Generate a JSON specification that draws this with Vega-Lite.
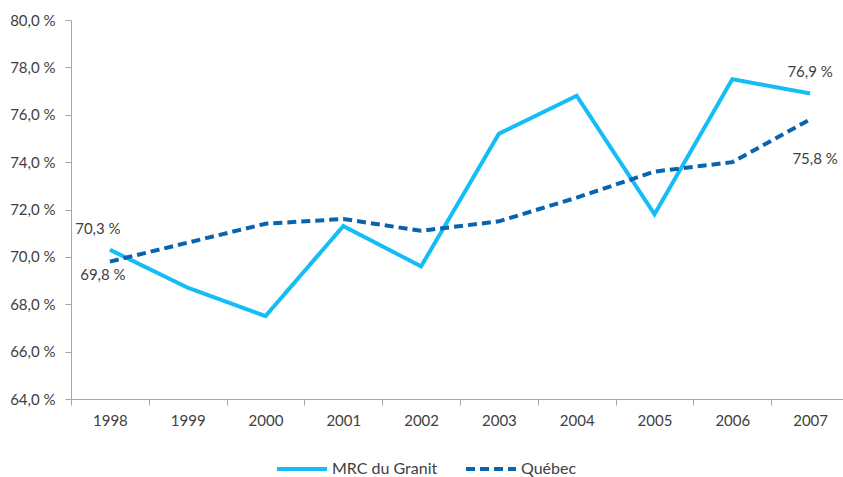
{
  "$schema": "https://vega.github.io/schema/vega-lite/v6.json",
  "autosize": {"type": "none"},
  "width": 778,
  "height": 379,
  "padding": {"left": 71, "top": 20, "right": 0, "bottom": 78},
  "background": "white",
  "config": {"view": {"stroke": null}, "font": "Lato", "text": {"font": "Lato"}},
  "data": {"values": [
    {"year": "1998", "series": "MRC du Granit", "value": 70.3, "label": "70,3 %"},
    {"year": "1999", "series": "MRC du Granit", "value": 68.7},
    {"year": "2000", "series": "MRC du Granit", "value": 67.5},
    {"year": "2001", "series": "MRC du Granit", "value": 71.3},
    {"year": "2002", "series": "MRC du Granit", "value": 69.6},
    {"year": "2003", "series": "MRC du Granit", "value": 75.2},
    {"year": "2004", "series": "MRC du Granit", "value": 76.8},
    {"year": "2005", "series": "MRC du Granit", "value": 71.8},
    {"year": "2006", "series": "MRC du Granit", "value": 77.5},
    {"year": "2007", "series": "MRC du Granit", "value": 76.9, "label": "76,9 %"},
    {"year": "1998", "series": "Québec", "value": 69.8, "label": "69,8 %"},
    {"year": "1999", "series": "Québec", "value": 70.6},
    {"year": "2000", "series": "Québec", "value": 71.4},
    {"year": "2001", "series": "Québec", "value": 71.6},
    {"year": "2002", "series": "Québec", "value": 71.1},
    {"year": "2003", "series": "Québec", "value": 71.5},
    {"year": "2004", "series": "Québec", "value": 72.5},
    {"year": "2005", "series": "Québec", "value": 73.6},
    {"year": "2006", "series": "Québec", "value": 74.0},
    {"year": "2007", "series": "Québec", "value": 75.8, "label": "75,8 %"}
  ]},
  "encoding": {
    "x": {
      "field": "year", "type": "ordinal",
      "scale": {"type": "band", "paddingInner": 0, "paddingOuter": 0},
      "axis": {"title": null, "labelAngle": 0, "tickBand": "extent", "domainColor": "#A6A6A6", "tickColor": "#A6A6A6", "tickSize": 6, "labelPadding": 8, "labelFontSize": 15, "labelColor": "#404040", "labelFont": "Lato"}
    },
    "y": {
      "field": "value", "type": "quantitative",
      "scale": {"domain": [64, 80], "nice": false, "zero": false},
      "axis": {"title": null, "values": [64, 66, 68, 70, 72, 74, 76, 78, 80], "grid": false, "labelExpr": "replace(format(datum.value, '.1f'), '.', ',') + ' %'", "domainColor": "#A6A6A6", "tickColor": "#A6A6A6", "tickSize": 6, "labelPadding": 10, "labelFontSize": 15, "labelColor": "#404040", "labelFont": "Lato"}
    }
  },
  "layer": [
    {
      "mark": {"type": "line", "strokeWidth": 4, "strokeCap": "butt"},
      "encoding": {
        "color": {"field": "series", "type": "nominal", "scale": {"domain": ["MRC du Granit", "Québec"], "range": ["#14BDF5", "#0A63AD"]},
          "legend": {"title": null, "orient": "none", "legendX": 204, "legendY": 422, "direction": "horizontal", "symbolType": "stroke", "symbolSize": 2500, "symbolStrokeWidth": 4, "labelFontSize": 16, "labelColor": "#404040", "labelFont": "Lato", "columnPadding": 20, "labelOffset": 3}},
        "strokeDash": {"field": "series", "type": "nominal", "scale": {"domain": ["MRC du Granit", "Québec"], "range": [[1, 0], [9, 5]]}, "legend": {"title": null, "orient": "none", "legendX": 204, "legendY": 422, "direction": "horizontal", "symbolType": "stroke", "symbolSize": 2500, "symbolStrokeWidth": 4, "labelFontSize": 16, "labelColor": "#404040", "labelFont": "Lato", "columnPadding": 20, "labelOffset": 3}}
      }
    },
    {
      "transform": [{"filter": "datum.year == '1998' && datum.series == 'MRC du Granit'"}],
      "mark": {"type": "text", "font": "Lato", "fontSize": 15, "color": "#404040", "dx": -12, "dy": -21},
      "encoding": {"text": {"field": "label"}}
    },
    {
      "transform": [{"filter": "datum.year == '1998' && datum.series == 'Québec'"}],
      "mark": {"type": "text", "font": "Lato", "fontSize": 15, "color": "#404040", "dx": -7, "dy": 13},
      "encoding": {"text": {"field": "label"}}
    },
    {
      "transform": [{"filter": "datum.year == '2007' && datum.series == 'MRC du Granit'"}],
      "mark": {"type": "text", "font": "Lato", "fontSize": 15, "color": "#404040", "dx": 0, "dy": -21},
      "encoding": {"text": {"field": "label"}}
    },
    {
      "transform": [{"filter": "datum.year == '2007' && datum.series == 'Québec'"}],
      "mark": {"type": "text", "font": "Lato", "fontSize": 15, "color": "#404040", "dx": 5, "dy": 40},
      "encoding": {"text": {"field": "label"}}
    }
  ]
}
